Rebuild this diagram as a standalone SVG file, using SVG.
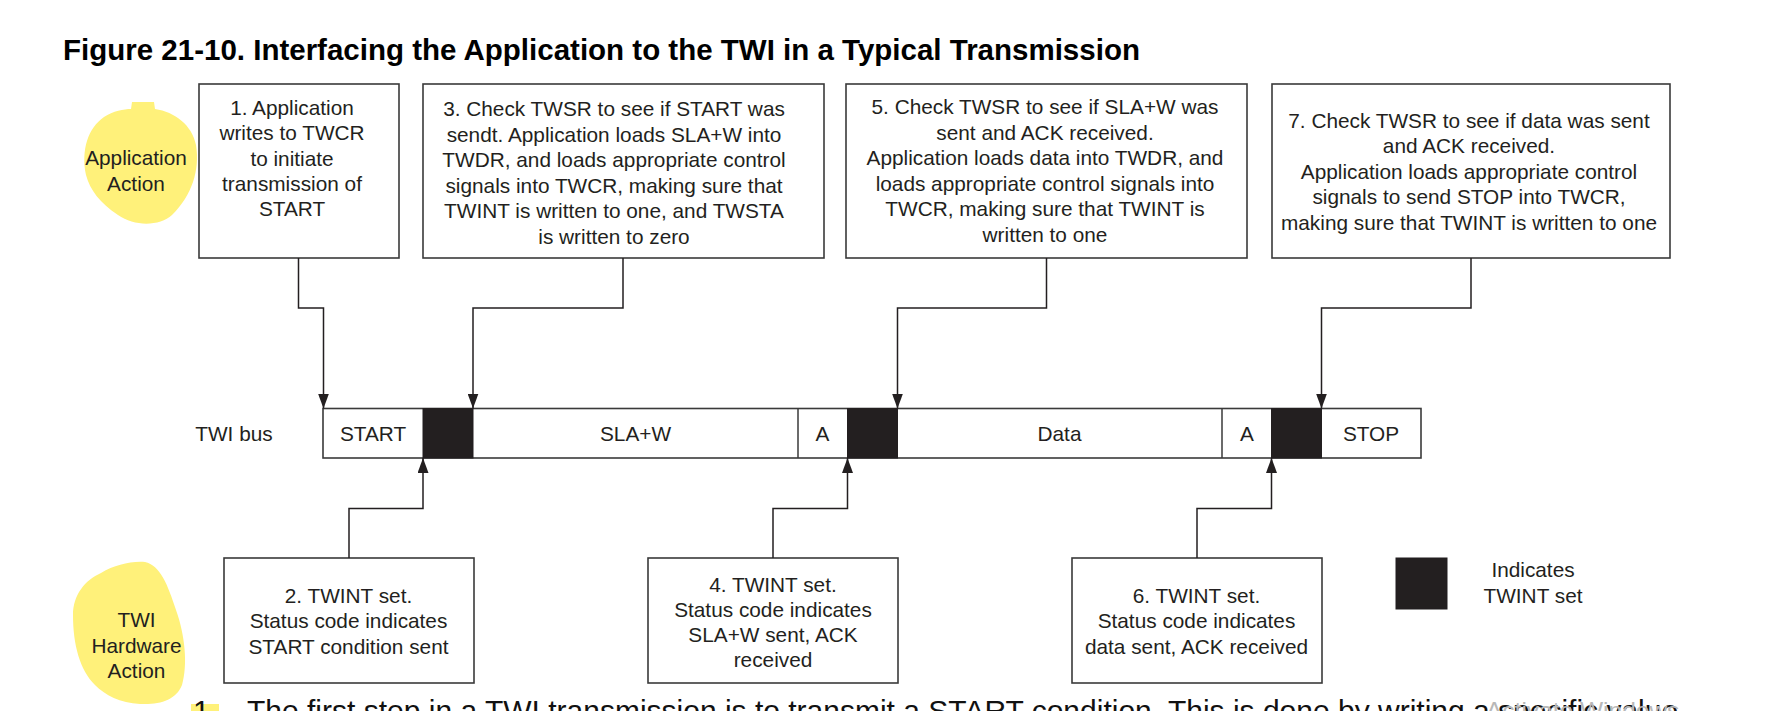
<svg xmlns="http://www.w3.org/2000/svg" width="1766" height="711" viewBox="0 0 1766 711">
<defs>
<style>
.bg{fill:#ffffff}
.box{fill:#ffffff;stroke:#3a3a3a;stroke-width:1.6}
.blk{fill:#231f20;stroke:#231f20;stroke-width:1}
.t{font-family:"Liberation Sans",Arial,sans-serif;font-size:20.8px;fill:#231f20;text-anchor:middle}
.title{font-family:"Liberation Sans",Arial,sans-serif;font-size:29.5px;font-weight:bold;fill:#000000}
.conn{fill:none;stroke:#231f20;stroke-width:1.5;marker-end:url(#arr)}
.hl{fill:#fff17a}
.body{font-family:"Liberation Sans",Arial,sans-serif;font-size:30px;fill:#111111}
.wm{font-family:"Liberation Sans",Arial,sans-serif;font-size:24.5px;fill:#b8b8b8}
</style>
<marker id="arr" markerUnits="userSpaceOnUse" viewBox="0 0 15 11" markerWidth="15" markerHeight="11" refX="15" refY="5.5" orient="auto">
<path d="M0,0 L15,5.5 L0,11 Z" fill="#231f20"/>
</marker>
</defs>
<rect class="bg" x="0" y="0" width="1766" height="711"/>

<text class="title" x="63" y="60">Figure 21-10. Interfacing the Application to the TWI in a Typical Transmission</text>

<g id="label-app">
<path class="hl" d="M132,102 L154,102 L155,109 C175,112 192,125 196,145 C200,170 192,195 172,215 C160,226 135,227 118,215 C100,203 90,190 86,175 C81,150 88,128 104,117 C113,111 124,109 131,109 Z"/>
<text class="t" x="136" y="165">Application</text>
<text class="t" x="136" y="191">Action</text>
</g>

<g id="label-hw">
<path class="hl" d="M101,573 C115,565 130,561 145,562 C160,565 168,585 176,610 C185,635 188,665 182,685 C176,700 160,705 140,704 C120,703 105,695 95,685 C80,670 73,645 73,615 C73,595 85,580 101,573 Z"/>
<text class="t" x="136.5" y="627">TWI</text>
<text class="t" x="136.5" y="652.5">Hardware</text>
<text class="t" x="136.5" y="678">Action</text>
</g>

<g id="box1">
<rect class="box" x="199" y="84" width="200" height="174"/>
<text class="t" x="292" y="115">1. Application</text>
<text class="t" x="292" y="140">writes to TWCR</text>
<text class="t" x="292" y="165.5">to initiate</text>
<text class="t" x="292" y="191">transmission of</text>
<text class="t" x="292" y="216">START</text>
</g>

<g id="box3">
<rect class="box" x="423" y="84" width="401" height="174"/>
<text class="t" x="614" y="116">3. Check TWSR to see if START was</text>
<text class="t" x="614" y="141.5">sendt. Application loads SLA+W into</text>
<text class="t" x="614" y="167">TWDR, and loads appropriate control</text>
<text class="t" x="614" y="192.5">signals into TWCR, making sure that</text>
<text class="t" x="614" y="218">TWINT is written to one, and TWSTA</text>
<text class="t" x="614" y="243.5">is written to zero</text>
</g>

<g id="box5">
<rect class="box" x="846" y="84" width="401" height="174"/>
<text class="t" x="1045" y="114">5. Check TWSR to see if SLA+W was</text>
<text class="t" x="1045" y="139.5">sent and ACK received.</text>
<text class="t" x="1045" y="165">Application loads data into TWDR, and</text>
<text class="t" x="1045" y="190.5">loads appropriate control signals into</text>
<text class="t" x="1045" y="216">TWCR, making sure that TWINT is</text>
<text class="t" x="1045" y="241.5">written to one</text>
</g>

<g id="box7">
<rect class="box" x="1272" y="84" width="398" height="174"/>
<text class="t" x="1469" y="127.5">7. Check TWSR to see if data was sent</text>
<text class="t" x="1469" y="153">and ACK received.</text>
<text class="t" x="1469" y="178.5">Application loads appropriate control</text>
<text class="t" x="1469" y="204">signals to send STOP into TWCR,</text>
<text class="t" x="1469" y="229.5">making sure that TWINT is written to one</text>
</g>

<g id="bus">
<text class="t" x="234" y="441">TWI bus</text>
<rect class="box" x="323" y="408.5" width="1098" height="49.5"/>
<rect class="blk" x="423" y="408.5" width="50" height="49.5"/>
<rect class="blk" x="847.5" y="408.5" width="50" height="49.5"/>
<rect class="blk" x="1271.5" y="408.5" width="50" height="49.5"/>
<line x1="798" y1="408.5" x2="798" y2="458" stroke="#3a3a3a" stroke-width="1.5"/>
<line x1="1222" y1="408.5" x2="1222" y2="458" stroke="#3a3a3a" stroke-width="1.5"/>
<text class="t" x="373" y="441">START</text>
<text class="t" x="635.5" y="441">SLA+W</text>
<text class="t" x="822.5" y="441">A</text>
<text class="t" x="1059.5" y="441">Data</text>
<text class="t" x="1247" y="441">A</text>
<text class="t" x="1371" y="441">STOP</text>
</g>

<g id="box2">
<rect class="box" x="224" y="558" width="250" height="125"/>
<text class="t" x="348.5" y="603">2. TWINT set.</text>
<text class="t" x="348.5" y="628">Status code indicates</text>
<text class="t" x="348.5" y="653.5">START condition sent</text>
</g>

<g id="box4">
<rect class="box" x="648" y="558" width="250" height="125"/>
<text class="t" x="773" y="591.5">4. TWINT set.</text>
<text class="t" x="773" y="616.5">Status code indicates</text>
<text class="t" x="773" y="641.5">SLA+W sent, ACK</text>
<text class="t" x="773" y="666.5">received</text>
</g>

<g id="box6">
<rect class="box" x="1072" y="558" width="250" height="125"/>
<text class="t" x="1196.5" y="603">6. TWINT set.</text>
<text class="t" x="1196.5" y="628">Status code indicates</text>
<text class="t" x="1196.5" y="653.5">data sent, ACK received</text>
</g>

<g id="legend">
<rect class="blk" x="1396" y="558" width="51" height="51"/>
<text class="t" x="1533" y="577">Indicates</text>
<text class="t" x="1533" y="603">TWINT set</text>
</g>

<g id="connectors">
<path class="conn" d="M298.5,258 V308 H323.5 V408.5"/>
<path class="conn" d="M623,258 V308 H473 V408.5"/>
<path class="conn" d="M1046.5,258 V308 H897.5 V408.5"/>
<path class="conn" d="M1471,258 V308 H1321.5 V408.5"/>
<path class="conn" d="M349,558 V508.5 H423 V458"/>
<path class="conn" d="M773,558 V508.5 H847.5 V458"/>
<path class="conn" d="M1197,558 V508.5 H1271.5 V458"/>
</g>

<rect class="hl" x="191" y="704" width="28" height="7"/>
<text class="body" x="193" y="720.5">1.</text>
<text class="body" x="247" y="720.5">The first step in a TWI transmission is to transmit a START condition. This is done by writing a specific value</text>
<text class="wm" x="1486" y="718.5">Activate Windows</text>
</svg>
